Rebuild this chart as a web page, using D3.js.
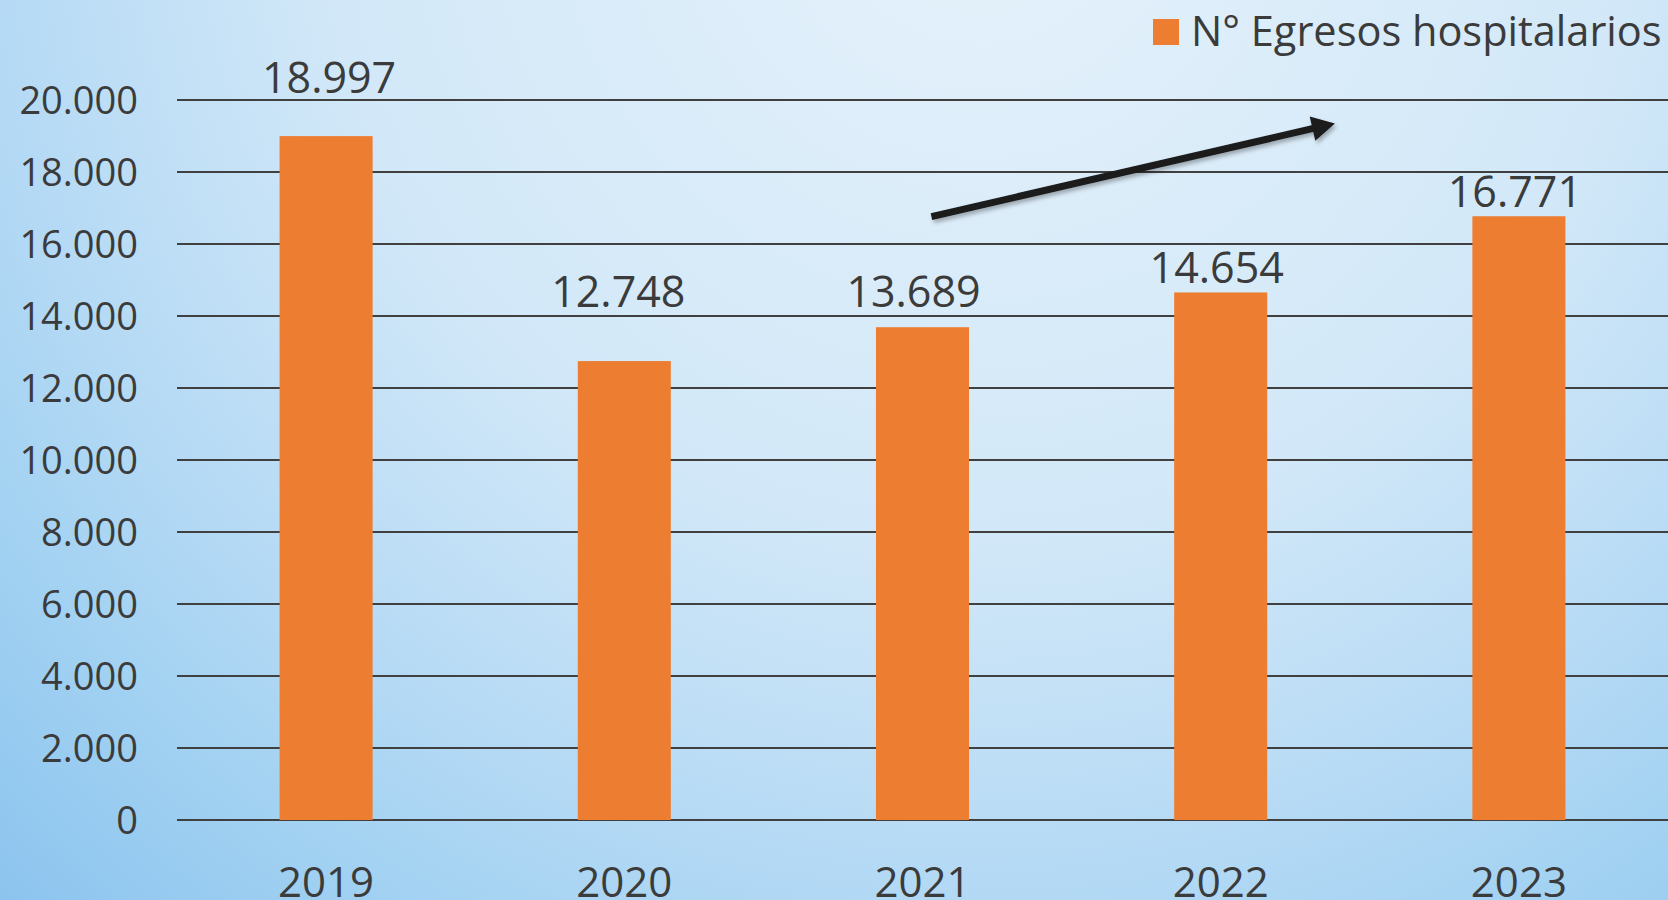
<!DOCTYPE html>
<html>
<head>
<meta charset="utf-8">
<script src="https://cdn.jsdelivr.net/npm/d3@7"></script>
<style>
    html, body { margin: 0; padding: 0; overflow: hidden; }
    text { font-family: 'Open Sans', 'Noto Sans', sans-serif; fill: #3b3b3b; }
</style>
</head>
<body>
<svg id="chart"></svg>
<script>
// data
const years = ['2019', '2020', '2021', '2022', '2023'];
const egresos = [18997, 12748, 13689, 14654, 16771];
const yTicks = [0, 2000, 4000, 6000, 8000, 10000, 12000, 14000, 16000, 18000, 20000];
const seriesName = 'N° Egresos hospitalarios';

// the value labels were dragged by hand in the original, so nudge them a bit
const labelLift = [43, 54, 20, 9, 9];
const labelShift = [3, -6, -9, -4, -4];

const width = 1668;
const height = 900;
const margin = {top: 100, right: 0, bottom: 80, left: 177};
const barColor = '#ed7d31';
const gridColor = '#404040';

const svg = d3.select('#chart')
    .attr('width', width)
    .attr('height', height);

// background
const defs = svg.append('defs');
const bg = defs.append('radialGradient')
    .attr('id', 'bg')
    .attr('gradientUnits', 'userSpaceOnUse')
    .attr('cx', 980)
    .attr('cy', -120)
    .attr('r', 1450);
[[0, '#e6f2fb'], [0.45, '#d2e8f8'], [0.66, '#b8dbf5'], [0.8, '#a3d2f2'], [1, '#89c2ee']]
    .forEach(function(s) {
        bg.append('stop').attr('offset', s[0]).attr('stop-color', s[1]);
    });

const shadow = defs.append('filter')
    .attr('id', 'shadow')
    .attr('x', '-20%').attr('y', '-50%')
    .attr('width', '140%').attr('height', '200%');
shadow.append('feDropShadow')
    .attr('dx', 2).attr('dy', 3)
    .attr('stdDeviation', 2)
    .attr('flood-color', '#000')
    .attr('flood-opacity', 0.3);

svg.append('rect')
    .attr('width', width)
    .attr('height', height)
    .attr('fill', 'url(#bg)');

const x = d3.scaleBand()
    .domain(years)
    .range([margin.left, width - margin.right])
    .paddingInner(0.688)
    .paddingOuter(0.344);

const y = d3.scaleLinear()
    .domain([0, 20000])
    .range([height - margin.bottom, margin.top]);

const fmt = function(v) {
    return d3.format(',')(v).replace(/,/g, '.');
};

// grid lines
svg.append('g')
    .selectAll('line')
    .data(yTicks)
    .enter()
    .append('line')
    .attr('x1', margin.left)
    .attr('x2', width - margin.right)
    .attr('y1', function(d) { return y(d); })
    .attr('y2', function(d) { return y(d); })
    .attr('stroke', gridColor)
    .attr('stroke-width', 2);

// y axis labels
svg.append('g')
    .selectAll('text')
    .data(yTicks)
    .enter()
    .append('text')
    .attr('x', 138)
    .attr('y', function(d) { return y(d); })
    .attr('dy', '0.357em')
    .attr('text-anchor', 'end')
    .style('font-size', '38px')
    .text(fmt);

// bars
svg.append('g')
    .selectAll('rect')
    .data(egresos)
    .enter()
    .append('rect')
    .attr('x', function(d, i) { return x(years[i]); })
    .attr('y', function(d) { return y(d); })
    .attr('width', x.bandwidth())
    .attr('height', function(d) { return y(0) - y(d); })
    .attr('fill', barColor);

// value labels
svg.append('g')
    .selectAll('text')
    .data(egresos)
    .enter()
    .append('text')
    .attr('x', function(d, i) { return x(years[i]) + x.bandwidth() / 2 + labelShift[i]; })
    .attr('y', function(d, i) { return y(d) - labelLift[i]; })
    .attr('text-anchor', 'middle')
    .style('font-size', '43px')
    .text(fmt);

// x axis labels (cut by the bottom edge, as in the original)
svg.append('g')
    .selectAll('text')
    .data(years)
    .enter()
    .append('text')
    .attr('x', function(d) { return x(d) + x.bandwidth() / 2; })
    .attr('y', 897)
    .attr('text-anchor', 'middle')
    .style('font-size', '42px')
    .text(function(d) { return d; });

// trend arrow, placed in category-index / value units
const xi = d3.scaleLinear()
    .domain([0, years.length - 1])
    .range([x(years[0]) + x.bandwidth() / 2, x(years[years.length - 1]) + x.bandwidth() / 2]);
const arrowFrom = [2.03, 16760];
const arrowTo = [3.383, 19350];

const x0 = xi(arrowFrom[0]), y0 = y(arrowFrom[1]);
const x1 = xi(arrowTo[0]), y1 = y(arrowTo[1]);
const ang = Math.atan2(y1 - y0, x1 - x0);
const headLen = 23, headHalf = 12.5;
const bx = x1 - headLen * Math.cos(ang), by = y1 - headLen * Math.sin(ang);

const arrow = svg.append('g').attr('filter', 'url(#shadow)');
arrow.append('line')
    .attr('x1', x0).attr('y1', y0)
    .attr('x2', bx + 2 * Math.cos(ang)).attr('y2', by + 2 * Math.sin(ang))
    .attr('stroke', '#1b1b1b')
    .attr('stroke-width', 7);
arrow.append('path')
    .attr('d', 'M' + x1 + ',' + y1 +
        'L' + (bx + headHalf * Math.sin(ang)) + ',' + (by - headHalf * Math.cos(ang)) +
        'L' + (bx - headHalf * Math.sin(ang)) + ',' + (by + headHalf * Math.cos(ang)) + 'Z')
    .attr('fill', '#1b1b1b');

// legend
const legend = svg.append('g');
legend.append('rect')
    .attr('x', 1153)
    .attr('y', 19)
    .attr('width', 26)
    .attr('height', 26)
    .attr('fill', barColor);
legend.append('text')
    .attr('x', 1191)
    .attr('y', 46)
    .style('font-size', '41.5px')
    .text(seriesName);
</script>
</body>
</html>
